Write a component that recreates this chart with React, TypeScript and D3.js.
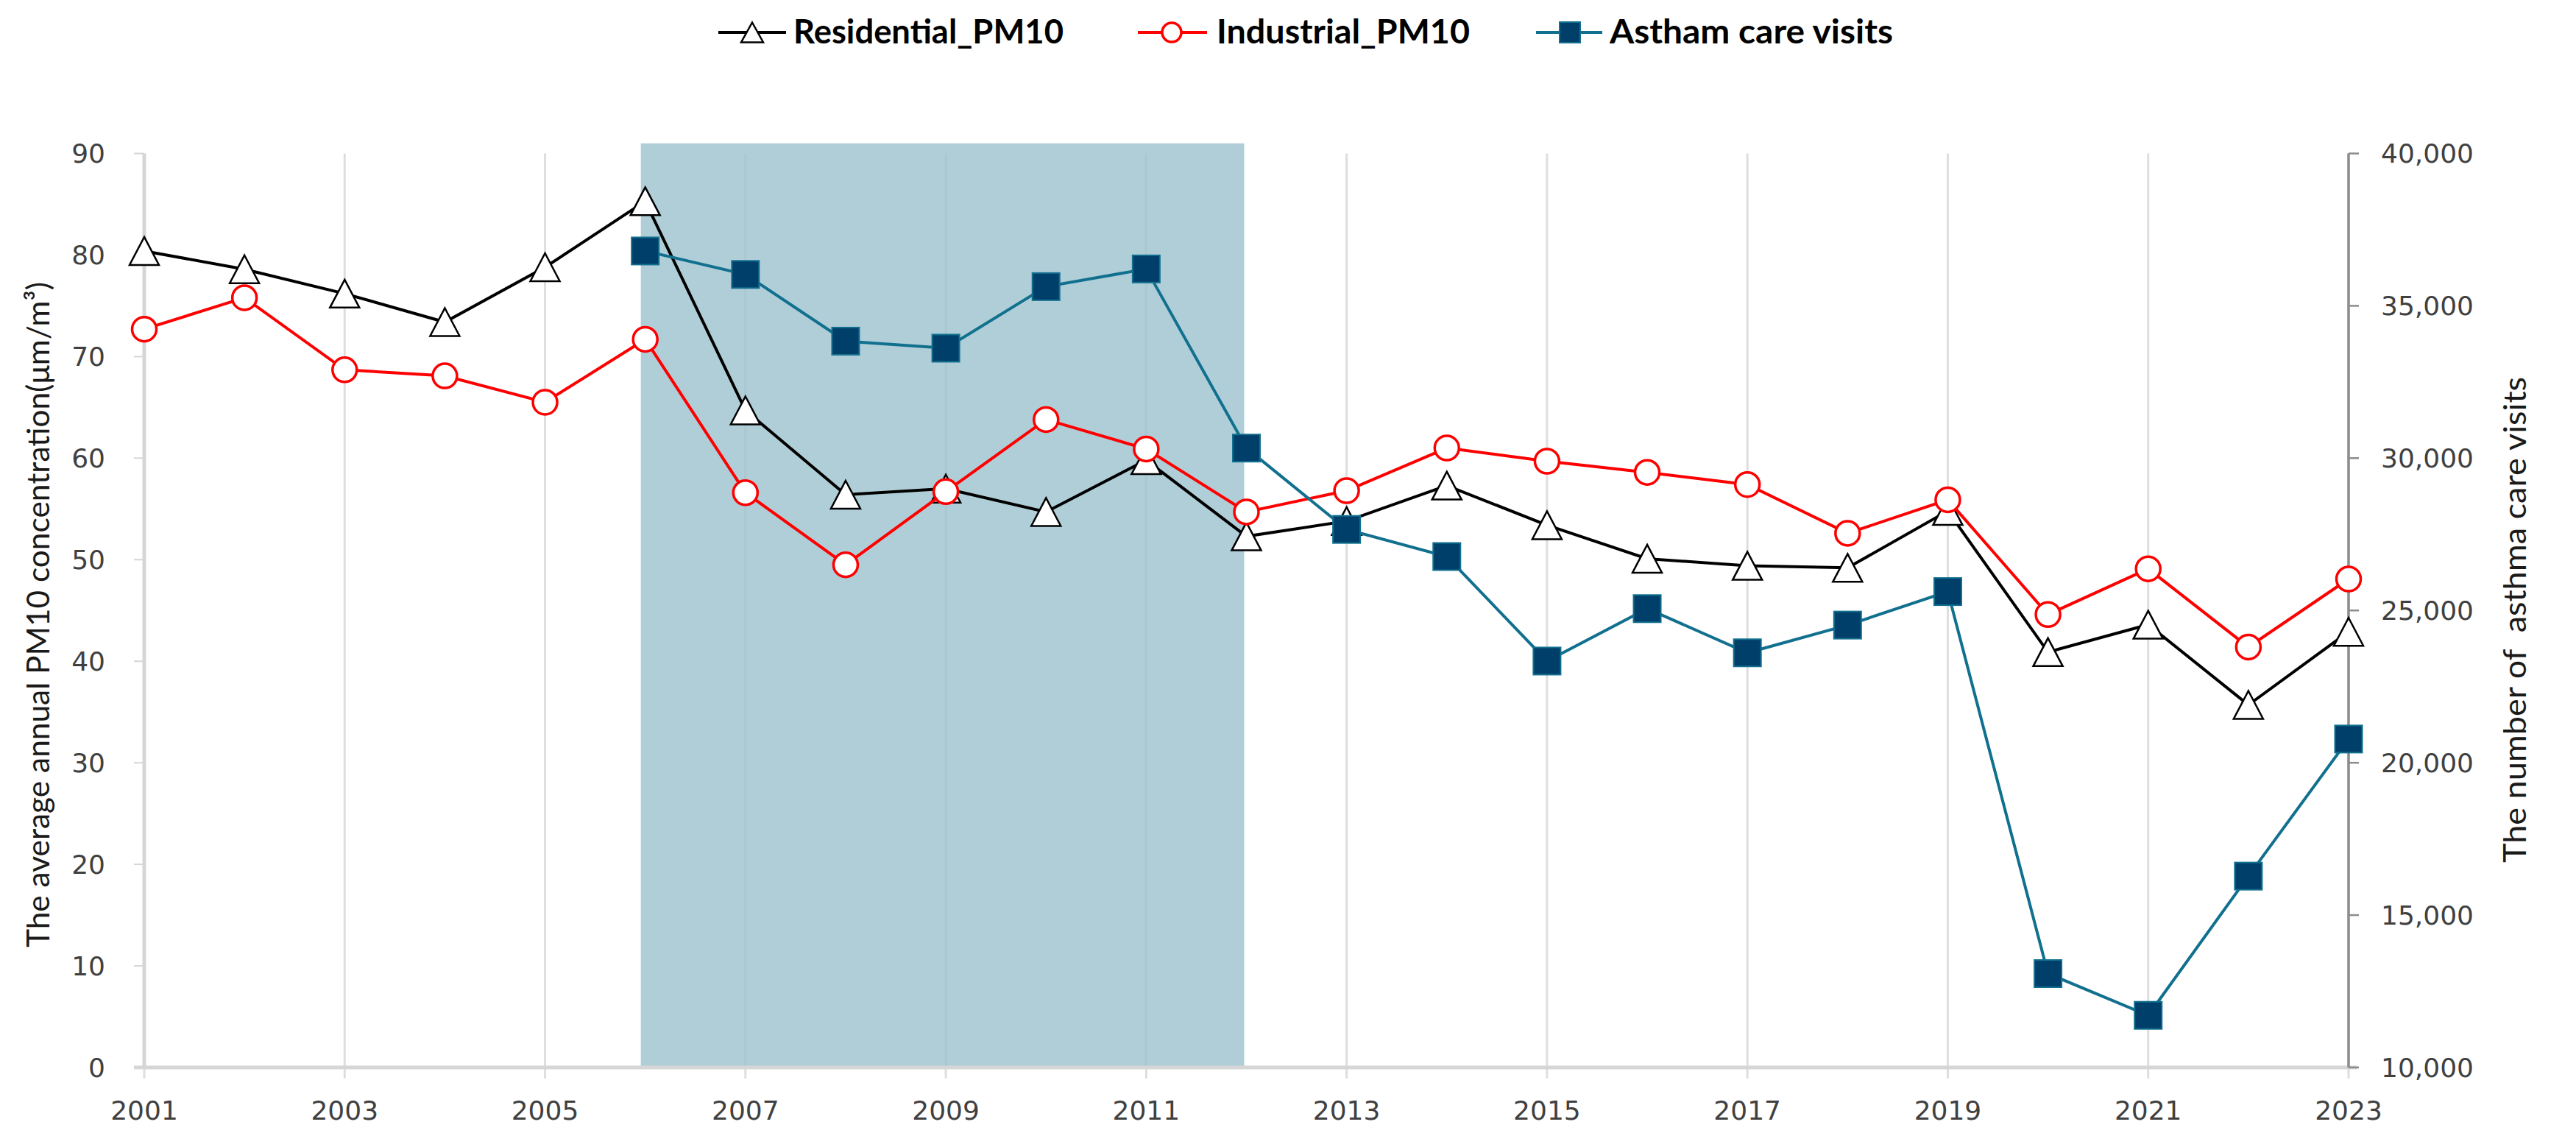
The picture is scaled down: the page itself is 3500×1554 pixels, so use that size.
import React from "react";
import * as d3 from "d3";

const years = [2001, 2002, 2003, 2004, 2005, 2006, 2007, 2008, 2009, 2010, 2011, 2012, 2013, 2014, 2015, 2016, 2017, 2018, 2019, 2020, 2021, 2022, 2023];
const residentialPM10 = [80.4, 78.6, 76.2, 73.4, 78.8, 85.3, 64.7, 56.4, 57.0, 54.7, 59.8, 52.3, 53.8, 57.3, 53.4, 50.1, 49.4, 49.2, 54.8, 40.9, 43.6, 35.7, 42.9];
const industrialPM10 = [72.7, 75.8, 68.7, 68.1, 65.5, 71.7, 56.6, 49.5, 56.7, 63.8, 60.9, 54.7, 56.8, 61.0, 59.7, 58.6, 57.4, 52.6, 55.9, 44.6, 49.1, 41.4, 48.1];
const asthmaVisits: (number | null)[] = [null, null, null, null, null, 36800, 36030, 33840, 33610, 35630, 36210, 30330, 27660, 26770, 23340, 25060, 23610, 24520, 25620, 13080, 11710, 16280, 20780];
const xTickYears = [2001, 2003, 2005, 2007, 2009, 2011, 2013, 2015, 2017, 2019, 2021, 2023];
const leftTicks = [0, 10, 20, 30, 40, 50, 60, 70, 80, 90];
const rightTicks = [10000, 15000, 20000, 25000, 30000, 35000, 40000];
const shadeYears = [2006, 2012];
const shadeTop = 91;
const legendLabels = ["Residential_PM10", "Industrial_PM10", "Astham care visits"];

const W = 3500, H = 1554;
const L = 196, R = 3191, T = 208.5, B = 1450;

const TICK_FONT = "'DejaVu Sans', Verdana, sans-serif";
const TITLE_FONT = "Lato, 'Liberation Sans', sans-serif";

const triPath = (w: number, h: number) => `M0,${-h / 2}L${w / 2},${h / 2}L${-w / 2},${h / 2}Z`;

export default function App() {
  const x = d3.scaleLinear().domain([2001, 2023]).range([L, R]);
  const yL = d3.scaleLinear().domain([0, 90]).range([B, T]);
  const yR = d3.scaleLinear().domain([10000, 40000]).range([B, T]);

  const lineL = d3.line<number>().x((_, i) => x(years[i])).y((d) => yL(d));
  const lineR = d3
    .line<number | null>()
    .defined((d) => d != null)
    .x((_, i) => x(years[i]))
    .y((d) => yR(d as number));

  const blueLine = "#12708f";
  const blueFill = "#003f6a";

  return (
    <svg width={W} height={H} style={{ position: "absolute", left: 0, top: 0, background: "#fff" }}>
      {/* vertical gridlines */}
      {xTickYears.map((yr) => (
        <line key={"g" + yr} x1={x(yr)} x2={x(yr)} y1={T} y2={B + 15} stroke="#dedede" strokeWidth={3} />
      ))}
      {/* shaded period */}
      <rect
        x={x(shadeYears[0]) - 6}
        y={yL(shadeTop)}
        width={x(shadeYears[1]) - x(shadeYears[0]) + 3}
        height={B - yL(shadeTop)}
        fill="rgb(156,194,206)"
        fillOpacity={0.8}
      />
      {/* left axis */}
      <line x1={L} x2={L} y1={T} y2={B} stroke="#d6d6d6" strokeWidth={5} />
      {leftTicks.map((t) => (
        <g key={"lt" + t}>
          <line x1={L - 14} x2={L} y1={yL(t)} y2={yL(t)} stroke="#d6d6d6" strokeWidth={2} />
          <text x={143} y={yL(t)} dy="0.36em" textAnchor="end" fontFamily={TICK_FONT} fontSize={36} fill="#404040">
            {t}
          </text>
        </g>
      ))}
      {/* bottom axis */}
      <line x1={L - 14} x2={R + 12} y1={B} y2={B} stroke="#d6d6d6" strokeWidth={5} />
      {xTickYears.map((yr) => (
        <text key={"xt" + yr} x={x(yr)} y={1521} textAnchor="middle" fontFamily={TICK_FONT} fontSize={36} fill="#404040">
          {yr}
        </text>
      ))}
      {/* right axis */}
      <line x1={R} x2={R} y1={T} y2={B} stroke="#8c8c8c" strokeWidth={3.5} />
      {rightTicks.map((t) => (
        <g key={"rt" + t}>
          <line x1={R} x2={R + 14} y1={yR(t)} y2={yR(t)} stroke="#8c8c8c" strokeWidth={2.5} />
          <text x={3235} y={yR(t)} dy="0.36em" textAnchor="start" fontFamily={TICK_FONT} fontSize={36} fill="#404040">
            {d3.format(",")(t)}
          </text>
        </g>
      ))}
      {/* axis titles */}
      <text
        transform={`translate(52,835) rotate(-90)`}
        textAnchor="middle"
        dy="0.35em"
        fontFamily={TITLE_FONT}
        fontSize={43}
        fill="#1a1a1a"
        textLength={904}
        lengthAdjust="spacingAndGlyphs"
      >
        The average annual PM10 concentration(μm/m³)
      </text>
      <text
        transform={`translate(3417,842) rotate(-90)`}
        textAnchor="middle"
        dy="0.35em"
        fontFamily={TITLE_FONT}
        fontSize={43}
        fill="#1a1a1a"
        textLength={660}
        lengthAdjust="spacingAndGlyphs"
        style={{ whiteSpace: "pre" }}
      >
        {"The number of  asthma care visits"}
      </text>

      {/* residential */}
      <path d={lineL(residentialPM10) || ""} fill="none" stroke="#000" strokeWidth={4} />
      {residentialPM10.map((v, i) => (
        <path key={"r" + i} d={triPath(40, 38)} transform={`translate(${x(years[i])},${yL(v)})`} fill="#fff" stroke="#000" strokeWidth={2.5} />
      ))}
      {/* industrial */}
      <path d={lineL(industrialPM10) || ""} fill="none" stroke="#ff0000" strokeWidth={4} />
      {industrialPM10.map((v, i) => (
        <circle key={"i" + i} cx={x(years[i])} cy={yL(v)} r={16.5} fill="#fff" stroke="#ff0000" strokeWidth={3.5} />
      ))}
      {/* asthma */}
      <path d={lineR(asthmaVisits) || ""} fill="none" stroke={blueLine} strokeWidth={4} />
      {asthmaVisits.map((v, i) =>
        v == null ? null : (
          <rect key={"a" + i} x={x(years[i]) - 18.5} y={yR(v) - 18.5} width={37} height={37} fill={blueFill} stroke={blueLine} strokeWidth={2} />
        )
      )}

      {/* legend */}
      <g fontFamily={TITLE_FONT} fontWeight="bold" fontSize={45} fill="#000">
        <line x1={976} x2={1068} y1={44} y2={44} stroke="#000" strokeWidth={4} />
        <path d={triPath(30, 27)} transform="translate(1022,44)" fill="#fff" stroke="#000" strokeWidth={2.5} />
        <text x={1078} y={59} textLength={367} lengthAdjust="spacingAndGlyphs">{legendLabels[0]}</text>

        <line x1={1546} x2={1640} y1={44} y2={44} stroke="#ff0000" strokeWidth={4} />
        <circle cx={1592} cy={44} r={13} fill="#fff" stroke="#ff0000" strokeWidth={3.5} />
        <text x={1653} y={59} textLength={344} lengthAdjust="spacingAndGlyphs">{legendLabels[1]}</text>

        <line x1={2087} x2={2177} y1={44} y2={44} stroke={blueLine} strokeWidth={4} />
        <rect x={2119} y={30} width={28} height={28} fill={blueFill} stroke={blueLine} strokeWidth={2} />
        <text x={2187} y={59} textLength={385} lengthAdjust="spacingAndGlyphs">{legendLabels[2]}</text>
      </g>
    </svg>
  );
}
